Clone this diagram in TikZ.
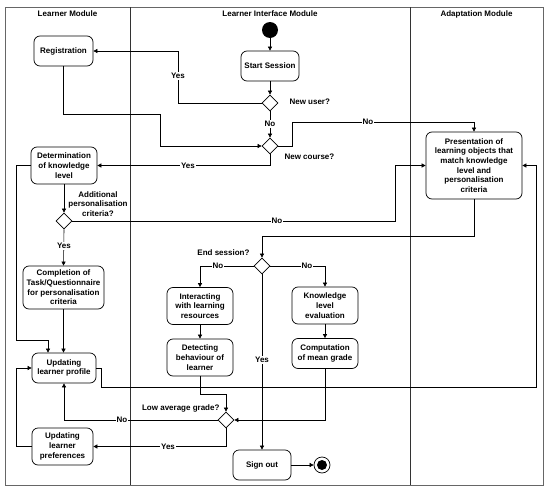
\documentclass[tikz,border=0pt]{standalone}
\usepackage{fontspec}
\setmainfont{Liberation Sans}
\usetikzlibrary{arrows.meta,shapes.geometric,calc}
\begin{document}
\begin{tikzpicture}[x=1pt,y=-1pt,
  txt/.style={font=\bfseries\fontsize{8}{9.7}\selectfont, align=center},
  box/.style={txt, draw, line width=0.7pt, rounded corners=6pt, inner sep=0pt},
  dec/.style={draw, line width=0.7pt, diamond, minimum width=16pt, minimum height=16pt, inner sep=0pt, fill=white},
  arr/.style={line width=0.6pt, -{Triangle[length=4pt,width=4pt]}},
  lbl/.style={txt, fill=white, inner sep=1pt},
  lane/.style={line width=0.6pt, draw=black!80}
]
\useasboundingbox (0,0) rectangle (550,493);
% frame and lanes
\draw[line width=0.9pt, draw=black!60] (5,7) rectangle (543,485);
\draw[lane] (130,7) -- (130,485);
\draw[lane] (410,7) -- (410,485);
\node[txt] (h1) at (67.5,14) {Learner Module};
\node[txt] (h2) at (270,14) {Learner Interface Module};
\node[txt] (h3) at (476.5,14) {Adaptation Module};

% nodes
\node[circle, fill=black, minimum size=16pt, inner sep=0pt] (startdot) at (270,30) {};
\node[box, minimum width=58pt, minimum height=30pt] (start) at (270,66) {Start Session};
\node[dec] (d1) at (270,103) {};
\node[dec] (d2) at (270,146) {};
\node[box, minimum width=59pt, minimum height=30pt] (reg) at (63.5,51) {Registration};
\node[box, minimum width=66pt, minimum height=37pt] (det) at (64,165.5) {Determination\\of knowledge\\level};
\node[dec] (d3) at (64,221) {};
\node[box, minimum width=81pt, minimum height=43pt] (comp) at (63.5,287.5) {Completion of\\Task/Questionnaire\\for personalisation\\criteria};
\node[box, minimum width=64pt, minimum height=30pt] (prof) at (64,368) {Updating\\learner profile};
\node[box, minimum width=61pt, minimum height=37pt] (pref) at (62.5,446.5) {Updating\\learner\\preferences};
\node[box, minimum width=96pt, minimum height=67pt] (pres) at (474,165.5) {Presentation of\\learning objects that\\match knowledge\\level and\\personalisation\\criteria};
\node[dec] (d4) at (262,266) {};
\node[box, minimum width=66pt, minimum height=37pt] (inter) at (200,306) {Interacting\\with learning\\resources};
\node[box, minimum width=66pt, minimum height=37pt] (detect) at (200,357.5) {Detecting\\behaviour of\\learner};
\node[box, minimum width=66pt, minimum height=37pt] (know) at (325,305.5) {Knowledge\\level\\evaluation};
\node[box, minimum width=66pt, minimum height=30pt] (comput) at (325,353.5) {Computation\\of mean grade};
\node[dec] (d5) at (226,420) {};
\node[box, minimum width=58pt, minimum height=30pt] (signout) at (262,465) {Sign out};
\node[circle, draw, line width=0.7pt, fill=white, minimum size=16pt, inner sep=0pt] (endc) at (322,465) {};
\node[circle, fill=black, minimum size=10pt, inner sep=0pt] (endd) at (322,465) {};

% decision labels
\node[txt, anchor=west] (q1) at (286,102) {New user?};
\node[txt, anchor=west] (q2) at (281,157) {New course?};
\node[txt] (q3) at (98,204) {Additional\\personalisation\\criteria?};
\node[txt, anchor=east] (q4) at (253,253) {End session?};
\node[txt, anchor=east] (q5) at (223,408) {Low average grade?};

% connectors
\draw[arr] (startdot) -- (start.north);
\draw[arr] (start.south) -- (d1.north);
\draw[arr] (d1.south) -- (d2.north);
\node[lbl] (l1) at (270,124) {No};
\draw[arr] (d1.west) -| (178,51) -- (reg.east);
\node[lbl] (l2) at (178,76) {Yes};
\draw[arr] (reg.south) |- (160,114) |- (d2.west);
\draw[arr] (d2.east) -| (292,122) -| (pres.north);
\node[lbl] (l3) at (368,122) {No};
\draw[arr] (d2.south) |- (det.east);
\node[lbl] (l4) at (188,165.5) {Yes};
\draw[arr] (det.south) -- (d3.north);
\draw[arr] (d3.east) -| (395,165.5) -- (pres.west);
\node[lbl] (l5) at (277,221) {No};
\draw[arr] (d3.south) -- (comp.north);
\node[lbl] (l6) at (64,246) {Yes};
\draw[arr] (comp.south) -- (comp.south |- prof.north);
\draw[arr] (det.west) -| (16,340) -| ($(prof.north)+(-16,0)$);
\draw[arr] (prof.east) -| (101,387) -| (536,165.5) -- (pres.east);
\draw[arr] (pres.south) |- (262,236) -- (d4.north);
\draw[arr] (d4.west) -| (inter.north);
\node[lbl] (l7) at (218,266) {No};
\draw[arr] (d4.east) -| (know.north);
\node[lbl] (l8) at (307,266) {No};
\draw[arr] (d4.south) -- (signout.north);
\node[lbl] (l9) at (262,360) {Yes};
\draw[arr] (inter.south) -- (detect.north);
\draw[arr] (know.south) -- (comput.north);
\draw[arr] (detect.south) |- (226,394) -- (d5.north);
\draw[arr] (comput.south) |- (d5.east);
\draw[arr] (d5.west) -| (prof.south);
\node[lbl] (l10) at (122,420) {No};
\draw[arr] (d5.south) |- (pref.east);
\node[lbl] (l11) at (168,446.5) {Yes};
\draw[arr] (pref.west) -| (16,368) -- (prof.west);
\draw[arr] (signout.east) -- (endc.west);
\end{tikzpicture}
\end{document}
